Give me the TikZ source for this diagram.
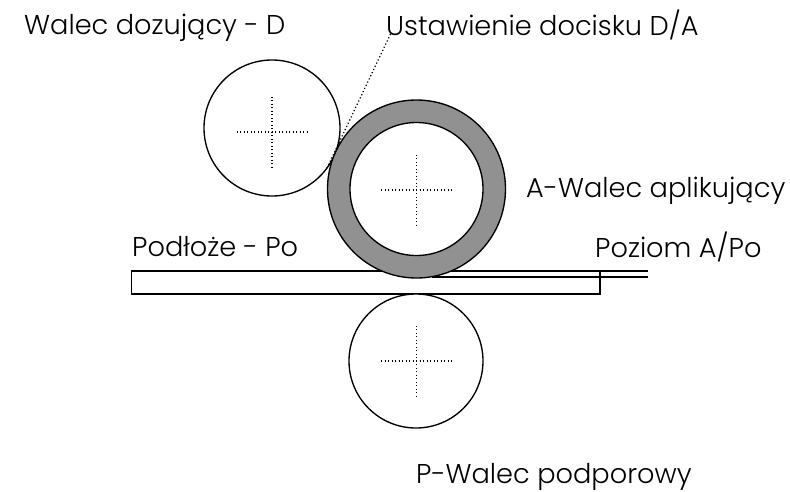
\documentclass[tikz,border=0pt]{standalone}
\usepackage{fontspec}
\setmainfont{Poppins}[UprightFont=* Light]
\tikzset{
  lbl/.style={inner sep=0pt,anchor=base west,font=\fontsize{27.2}{30}\selectfont,text=black},
  roll/.style={circle,draw=black,line width=1.35pt,inner sep=0pt,fill=white},
  axis/.style={draw=black,line width=1.2pt,dash pattern=on 1.2pt off 2.3pt},
  thin line/.style={draw=black,line width=1.1pt}
}
\newcommand{\crossat}[2]{%
  \draw[axis] (#1-35.5,#2) -- (#1+35.5,#2);
  \draw[axis] (#1,#2-35.5) -- (#1,#2+35.5);}
\begin{document}
\begin{tikzpicture}[x=1pt,y=-1pt]
\useasboundingbox (0,0) rectangle (790,491);
\node[roll,minimum size=136pt] (D) at (272,128) {};
\coordinate (leadA) at (327,168);
\coordinate (leadB) at (391,33);
\draw[axis] (leadA) -- (leadB);
\node[draw=black,line width=1.2pt,inner sep=0pt,minimum width=468.5pt,minimum height=23pt] (Po) at (365.75,282.5) {};
\coordinate (L1a) at (445,271);
\coordinate (L1b) at (648,271);
\coordinate (L2a) at (432,277);
\coordinate (L2b) at (648,277);
\draw[thin line] (L1a) -- (L1b);
\draw[thin line] (L2a) -- (L2b);
\node[circle,draw=black,line width=1.35pt,fill=black!43,inner sep=0pt,minimum size=178pt] (A) at (416.5,189) {};
\node[roll,minimum size=133pt] (Ain) at (416.5,189) {};
\node[roll,minimum size=134pt] (P) at (416,361) {};
\crossat{272}{132}
\crossat{416.5}{190}
\crossat{416.5}{361}
\node[lbl] (t1) at (24,34) {Walec dozujący - D};
\node[lbl] (t2) at (386,35) {Ustawienie docisku D/A};
\node[lbl] (t3) at (526,197) {A-Walec aplikujący};
\node[lbl] (t4) at (132,256) {Podłoże - Po};
\node[lbl] (t5) at (595,257) {Poziom A/Po};
\node[lbl] (t6) at (416,483) {P-Walec podporowy};
\end{tikzpicture}
\end{document}
